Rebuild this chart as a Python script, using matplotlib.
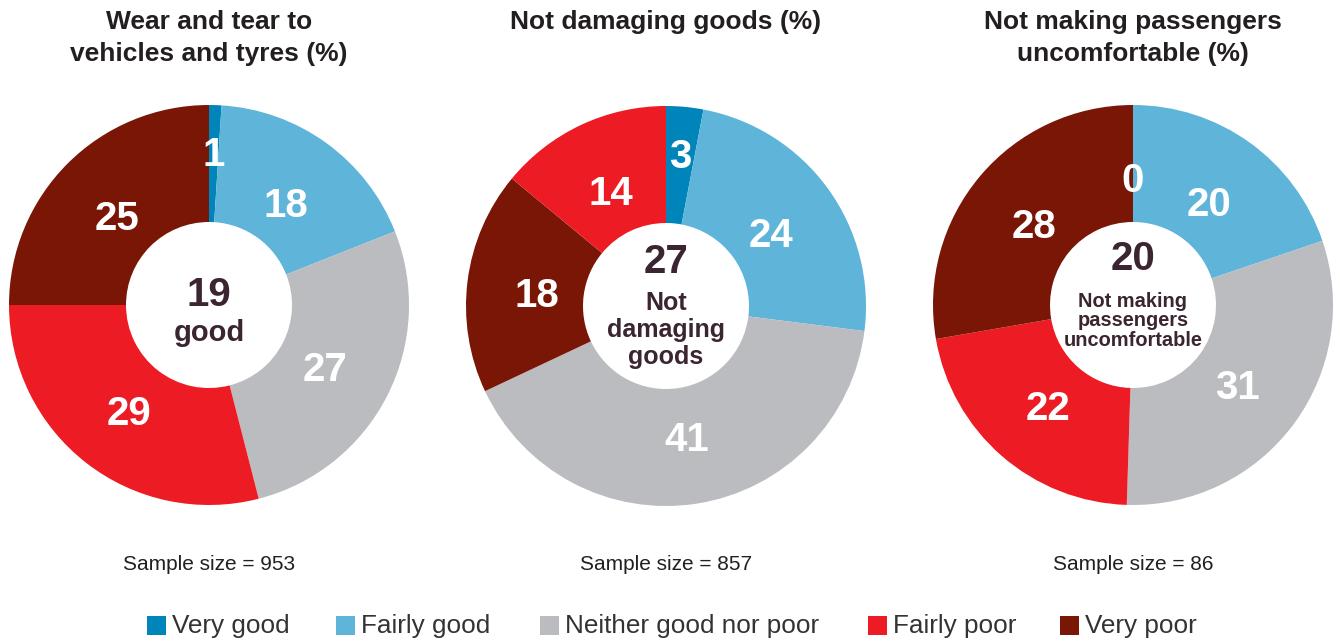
import numpy as np
import matplotlib
matplotlib.use('Agg')
import matplotlib.pyplot as plt
from matplotlib.patches import Rectangle

plt.rcParams['font.family'] = ['Liberation Sans', 'DejaVu Sans']

# categories and colours
categories = ['Very good', 'Fairly good', 'Neither good nor poor', 'Fairly poor', 'Very poor']
cat_colors = {'Very good': '#0085ba', 'Fairly good': '#5eb4d9', 'Neither good nor poor': '#bbbcc0',
              'Fairly poor': '#ed1c24', 'Very poor': '#7a1606'}

# chart data (clockwise order from 12 o'clock)
titles = [['Wear and tear to', 'vehicles and tyres (%)'],
          ['Not damaging goods (%)'],
          ['Not making passengers', 'uncomfortable (%)']]
orders = [['Very good', 'Fairly good', 'Neither good nor poor', 'Fairly poor', 'Very poor'],
          ['Very good', 'Fairly good', 'Neither good nor poor', 'Very poor', 'Fairly poor'],
          ['Very good', 'Fairly good', 'Neither good nor poor', 'Fairly poor', 'Very poor']]
values = [[1, 18, 27, 29, 25],
          [3, 24, 41, 18, 14],
          [0, 20, 31, 22, 28]]
center_values = [19, 27, 20]
center_texts = ['good', 'Not\ndamaging\ngoods', 'Not making\npassengers\nuncomfortable']
sample_sizes = [953, 857, 86]

W, H = 1340, 641
fig = plt.figure(figsize=(W / 100, H / 100), dpi=100)

centers = [(209, 305), (666, 306), (1133, 305)]
R = 200
inner = 0.415
dark = '#3b2531'

# centre text layout: (y of number, y of words, size of words, line spacing)
center_layout = [(0.05, -0.14, 21, 1.0),
                 (0.22, -0.12, 18, 1.14),
                 (0.23, -0.08, 14.4, 1.05)]

for i in range(3):
    cx, cy = centers[i]
    ax = fig.add_axes([(cx - R) / W, (H - cy - R) / H, 2 * R / W, 2 * R / H])
    cols = [cat_colors[c] for c in orders[i]]
    wedges, _ = ax.pie(values[i], colors=cols, startangle=90, counterclock=False,
                       radius=1, wedgeprops=dict(width=1 - inner, linewidth=0))
    for w, v in zip(wedges, values[i]):
        ang = np.deg2rad((w.theta1 + w.theta2) / 2)
        r = 0.78 if 0 < v < 5 else 0.65
        ax.text(r * np.cos(ang), r * np.sin(ang) - 0.03, str(v), ha='center', va='center',
                color='white', fontsize=29, fontweight='bold')
    ax.set_xlim(-1, 1)
    ax.set_ylim(-1, 1)
    ax.set_aspect('equal')
    ax.axis('off')

    # centre text
    ny, ty, ts, ls = center_layout[i]
    ax.text(0, ny, str(center_values[i]), ha='center', va='center', color=dark,
            fontsize=29, fontweight='bold')
    ax.text(0, ty, center_texts[i], ha='center', va='center', color=dark,
            fontsize=ts, fontweight='bold', linespacing=ls)

    # title lines and sample size
    for k, line in enumerate(titles[i]):
        fig.text(cx / W, 1 - (22 + 32 * k) / H, line, ha='center', va='center',
                 fontsize=19, fontweight='bold', color='#231f20')
    fig.text(cx / W, 1 - 564 / H, 'Sample size = %d' % sample_sizes[i], ha='center',
             va='center', fontsize=15, color='#231f20')

# legend
leg_x = [147, 336, 540, 868, 1060]
for x, c in zip(leg_x, categories):
    fig.patches.append(Rectangle((x / W, 1 - 635 / H), 19 / W, 19 / H,
                                 transform=fig.transFigure, color=cat_colors[c], lw=0))
    fig.text((x + 25) / W, 1 - 626 / H, c, ha='left', va='center', fontsize=18.8,
             color='#333333')

fig.savefig('out.png', dpi=100)
